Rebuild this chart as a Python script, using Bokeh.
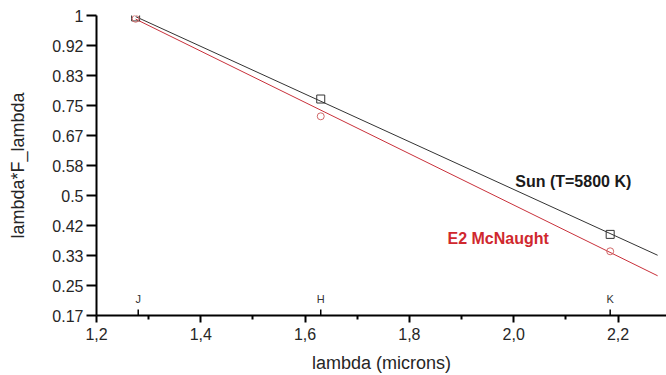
from bokeh.plotting import figure
from bokeh.models import FixedTicker, Label, Arrow, Range1d
from bokeh.embed import file_html
from bokeh.resources import INLINE

# ---- data ----
band_names = ["J", "H", "K"]
band_x = [1.28, 1.63, 2.185]
point_x = [1.275, 1.63, 2.185]
sun_y = [0.996, 0.768, 0.392]
mcnaught_y = [0.991, 0.720, 0.345]
fit_x = [1.275, 2.276]
sun_fit_y = [0.997, 0.334]
mcnaught_fit_y = [0.990, 0.277]
x_ticks = [1.2, 1.4, 1.6, 1.8, 2.0, 2.2]
x_tick_labels = ["1,2", "1,4", "1,6", "1,8", "2,0", "2,2"]
x_minor_ticks = [1.3, 1.5, 1.7, 1.9, 2.1]
y_ticks = [1/6, 0.25, 1/3, 5/12, 0.5, 7/12, 2/3, 0.75, 5/6, 11/12, 1.0]
y_tick_labels = ["0.17", "0.25", "0.33", "0.42", "0.5", "0.58", "0.67", "0.75", "0.83", "0.92", "1"]

FONT = "Liberation Sans"
RED = "#d0282e"

p = figure(width=666, height=375, output_backend="svg", toolbar_location=None,
           x_range=Range1d(1.2, 2.293), y_range=Range1d(1/6, 1.0),
           min_border_left=96, min_border_right=0, min_border_top=15, min_border_bottom=57)
p.outline_line_color = None
p.grid.grid_line_color = None
p.background_fill_color = "white"
p.border_fill_color = "white"

# lines and markers
p.line(fit_x, sun_fit_y, line_color="#333333", line_width=1)
p.line(fit_x, mcnaught_fit_y, line_color="#c8303a", line_width=1)
p.scatter(point_x, sun_y, marker="square", size=8, fill_color=None, line_color="#333333", line_width=1)
p.scatter(point_x, mcnaught_y, marker="circle", size=7, fill_color=None, line_color="#d06868", line_width=1)

# axes
xa = p.xaxis[0]
xa.ticker = FixedTicker(ticks=x_ticks, minor_ticks=x_minor_ticks)
xa.major_label_overrides = {t: l for t, l in zip(x_ticks, x_tick_labels)}
xa.axis_label = "lambda (microns)"
ya = p.yaxis[0]
ya.ticker = FixedTicker(ticks=y_ticks, minor_ticks=[])
ya.major_label_overrides = {t: l for t, l in zip(y_ticks, y_tick_labels)}
ya.axis_label = "lambda*F_lambda"
for ax in (xa, ya):
    ax.axis_line_color = "black"
    ax.axis_line_width = 2
    ax.major_tick_line_color = "black"
    ax.major_tick_line_width = 2
    ax.minor_tick_line_color = "black"
    ax.minor_tick_line_width = 2
    ax.major_tick_in = 0
    ax.minor_tick_in = 0
    ax.major_label_text_font = FONT
    ax.major_label_text_font_size = "16px"
    ax.major_label_text_color = "#262626"
    ax.axis_label_text_font = FONT
    ax.axis_label_text_font_size = "18px"
    ax.axis_label_text_font_style = "normal"
    ax.axis_label_text_color = "#262626"
xa.major_tick_out = 7
xa.minor_tick_out = 4
ya.major_tick_out = 10
ya.minor_tick_out = 0
xa.major_label_standoff = 5
xa.axis_label_standoff = 10
ya.major_label_standoff = 3
ya.axis_label_standoff = 21

# band markers on the x axis
y0 = y_ticks[0]
for name, bx in zip(band_names, band_x):
    p.add_layout(Arrow(end=None, x_start=bx, x_end=bx, y_start=y0 + 0.0165, y_end=y0 - 0.0138,
                       line_color="black", line_width=1.5))
    p.add_layout(Label(x=bx, y=y0 + 0.03, text=name, text_align="center", text_baseline="bottom",
                       text_font=FONT, text_font_size="11px", text_color="#333333"))

# series labels
p.add_layout(Label(x=2.003, y=0.538, text="Sun (T=5800 K)", text_baseline="middle",
                   text_font=FONT, text_font_size="16px", text_font_style="bold", text_color="#1a1a1a"))
p.add_layout(Label(x=1.873, y=0.381, text="E2 McNaught", text_baseline="middle",
                   text_font=FONT, text_font_size="16px", text_font_style="bold", text_color=RED))

open("out.html", "w").write(file_html(p, INLINE))
